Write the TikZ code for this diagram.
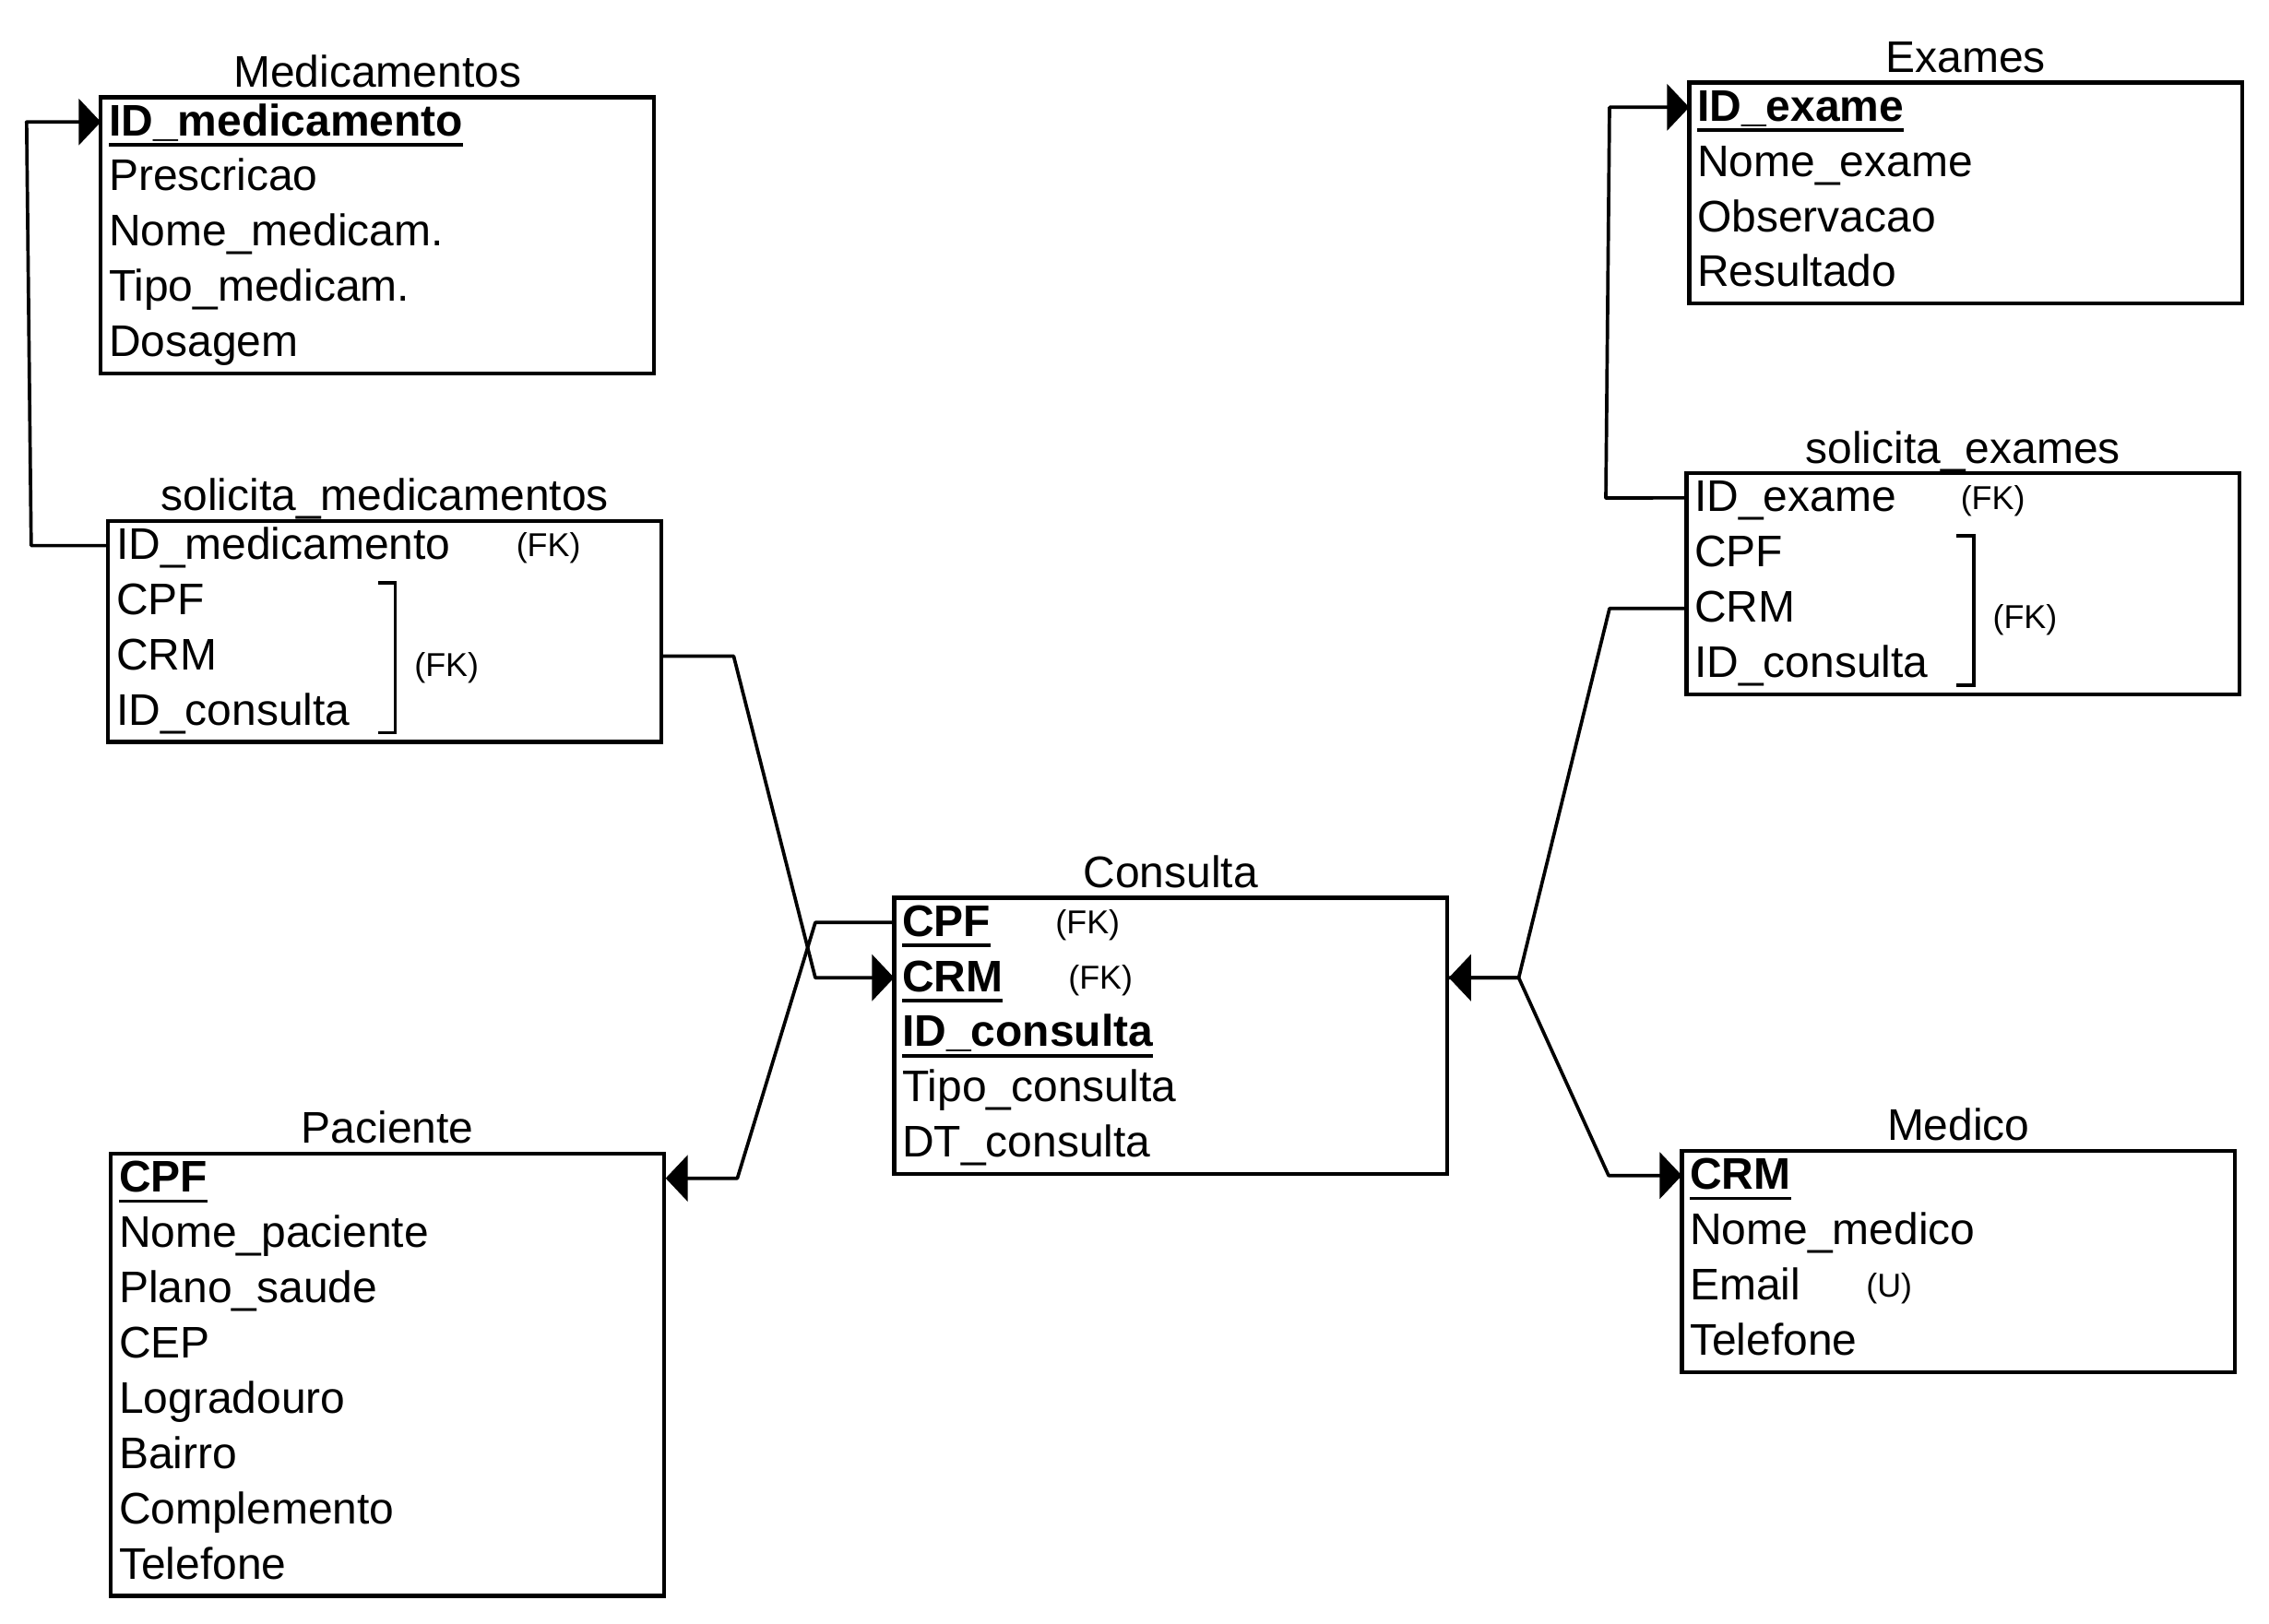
\documentclass[tikz,border=0pt]{standalone}
\usepackage{fontspec}
\setmainfont{Liberation Sans}
\usetikzlibrary{arrows.meta}
\newsavebox\chavebox
\newcommand{\chave}[1]{\sbox\chavebox{\bfseries #1}\rlap{\rule[-3.4pt]{\wd\chavebox}{1.1pt}}\usebox\chavebox}
\tikzset{
  tabela/.style={line width=1.2pt},
  campo/.style={anchor=west, inner xsep=0.8mm, inner ysep=0pt, text width=58.4mm, align=left,
    text height=8.4pt, text depth=0pt, font=\fontsize{13.65}{16}\selectfont},
  titulo/.style={anchor=base, inner sep=0pt, font=\fontsize{13.65}{16}\selectfont},
  nota/.style={inner sep=0pt, text height=7pt, text depth=0pt, font=\fontsize{10.2}{12}\selectfont},
  liga/.style={line width=1.05pt, line join=round, -{Triangle[length=2.4mm,width=5mm]}},
  chaveta/.style={line width=1.1pt}
}
\begin{document}
\begin{tikzpicture}[scale=0.9943]
        \useasboundingbox (0,0) rectangle (24.741,-17.701);

        % Medicamentos
        \draw[tabela] (1.10,-1.06) rectangle (7.13,-4.075);
        \node[titulo] (tmed) at (4.115,-0.95) {Medicamentos};
        \node[campo] (med1) at (1.10,-1.33) {\chave{ID\_medicamento}};
        \node[campo] (med2) at (1.10,-1.933) {Prescricao};
        \node[campo] (med3) at (1.10,-2.536) {Nome\_medicam.};
        \node[campo] (med4) at (1.10,-3.139) {Tipo\_medicam.};
        \node[campo] (med5) at (1.10,-3.742) {Dosagem};

        % solicita_medicamentos
        \draw[tabela] (1.18,-5.68) rectangle (7.21,-8.09);
        \node[titulo] (tsm) at (4.195,-5.57) {solicita\_medicamentos};
        \node[campo] (sm1) at (1.18,-5.95) {ID\_medicamento};
        \node[campo] (sm2) at (1.18,-6.553) {CPF};
        \node[campo] (sm3) at (1.18,-7.156) {CRM};
        \node[campo] (sm4) at (1.18,-7.759) {ID\_consulta};
        \node[nota] (fksm1) at (5.98,-5.95) {(FK)};
        \draw[chaveta] (4.12,-6.36) -- (4.31,-6.36) -- (4.31,-7.99) -- (4.12,-7.99); % chave das FK
        \node[nota] (fksm2) at (4.87,-7.25) {(FK)};

        % Consulta
        \draw[tabela] (9.75,-9.79) rectangle (15.78,-12.805);
        \node[titulo] (tcons) at (12.765,-9.68) {Consulta};
        \node[campo] (cons1) at (9.75,-10.06) {\chave{CPF}};
        \node[campo] (cons2) at (9.75,-10.663) {\chave{CRM}};
        \node[campo] (cons3) at (9.75,-11.266) {\chave{ID\_consulta}};
        \node[campo] (cons4) at (9.75,-11.869) {Tipo\_consulta};
        \node[campo] (cons5) at (9.75,-12.472) {DT\_consulta};
        \node[nota] (fkcons1) at (11.86,-10.06) {(FK)};
        \node[nota] (fkcons2) at (12.00,-10.663) {(FK)};

        % Paciente
        \draw[tabela] (1.21,-12.58) rectangle (7.24,-17.404);
        \node[titulo] (tpac) at (4.225,-12.47) {Paciente};
        \node[campo] (pac1) at (1.21,-12.85) {\chave{CPF}};
        \node[campo] (pac2) at (1.21,-13.453) {Nome\_paciente};
        \node[campo] (pac3) at (1.21,-14.056) {Plano\_saude};
        \node[campo] (pac4) at (1.21,-14.659) {CEP};
        \node[campo] (pac5) at (1.21,-15.262) {Logradouro};
        \node[campo] (pac6) at (1.21,-15.865) {Bairro};
        \node[campo] (pac7) at (1.21,-16.468) {Complemento};
        \node[campo] (pac8) at (1.21,-17.071) {Telefone};

        % Exames
        \draw[tabela] (18.42,-0.90) rectangle (24.45,-3.312);
        \node[titulo] (texa) at (21.435,-0.79) {Exames};
        \node[campo] (exa1) at (18.42,-1.17) {\chave{ID\_exame}};
        \node[campo] (exa2) at (18.42,-1.773) {Nome\_exame};
        \node[campo] (exa3) at (18.42,-2.376) {Observacao};
        \node[campo] (exa4) at (18.42,-2.979) {Resultado};

        % solicita_exames
        \draw[tabela] (18.39,-5.16) rectangle (24.42,-7.572);
        \node[titulo] (tse) at (21.405,-5.05) {solicita\_exames};
        \node[campo] (se1) at (18.39,-5.43) {ID\_exame};
        \node[campo] (se2) at (18.39,-6.033) {CPF};
        \node[campo] (se3) at (18.39,-6.636) {CRM};
        \node[campo] (se4) at (18.39,-7.239) {ID\_consulta};
        \node[nota] (fkse1) at (21.73,-5.43) {(FK)};
        \draw[chaveta] (21.33,-5.84) -- (21.52,-5.84) -- (21.52,-7.47) -- (21.33,-7.47); % chave das FK
        \node[nota] (fkse2) at (22.08,-6.73) {(FK)};

        % Medico
        \draw[tabela] (18.34,-12.55) rectangle (24.37,-14.962);
        \node[titulo] (tmedi) at (21.355,-12.44) {Medico};
        \node[campo] (medi1) at (18.34,-12.82) {\chave{CRM}};
        \node[campo] (medi2) at (18.34,-13.423) {Nome\_medico};
        \node[campo] (medi3) at (18.34,-14.026) {Email};
        \node[campo] (medi4) at (18.34,-14.629) {Telefone};
        \node[nota] (umedi) at (20.60,-14.026) {(U)};

        % Ligacoes
        \draw[liga] (sm1.west) -- (0.34,-5.95) -- (0.29,-1.33) -- (med1.west);
        \draw[liga] (sm3.east) -- (8.00,-7.156) -- (8.89,-10.663) -- (cons2.west);
        \draw[liga] (cons1.west) -- (8.89,-10.06) -- (8.04,-12.85) -- (pac1.east);
        \draw[liga] (se1.west) -- (17.51,-5.43) -- (17.55,-1.17) -- (exa1.west);
        \draw[liga] (se3.west) -- (17.55,-6.636) -- (16.56,-10.663) -- (cons2.east);
        \draw[liga] (cons2.east) -- (16.56,-10.663) -- (17.54,-12.82) -- (medi1.west);

    \end{tikzpicture}
\end{document}
